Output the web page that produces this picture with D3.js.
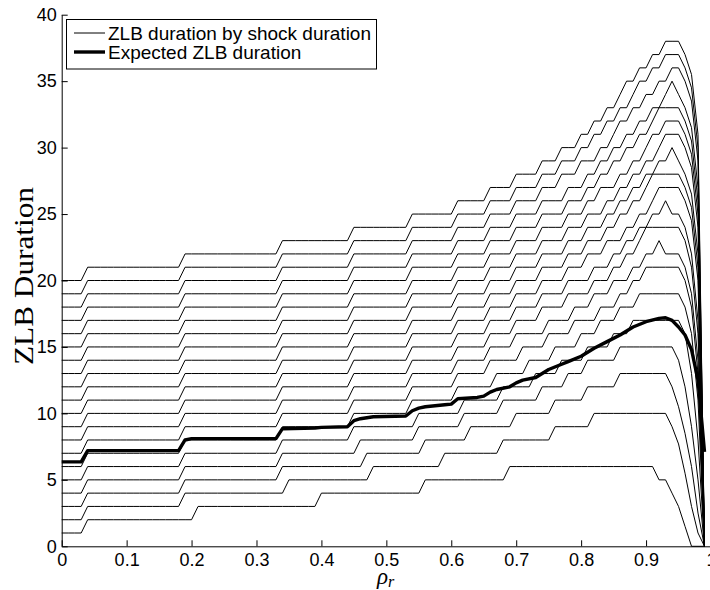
<!DOCTYPE html>
<html>
<head>
<meta charset="utf-8">
<script src="https://cdn.jsdelivr.net/npm/d3@7"></script>
<style type="text/css">
body { margin: 0; background: #fff; }
.axis text { font-family: "Liberation Sans", Arial, sans-serif; font-size: 18px; fill: #000; }
.axis path, .axis line { stroke: #000; stroke-width: 1; }
.legend text { font-family: "Liberation Sans", Arial, sans-serif; font-size: 19px; }
</style>
</head>
<body>
<svg width="710" height="590"></svg>
<script>

// shock durations (value of each thin line at rho_r = 0)
var shockDurations = [1, 2, 3, 4, 5, 6, 7, 8, 9, 10, 11, 12, 13, 14, 15, 16, 17, 18, 19, 20];

// last rho_r before each one-period increase of the ZLB duration, per shock duration
var stepAt = [
  [0.03, 0.20, 0.39, 0.55, 0.68],
  [0.03, 0.18, 0.34, 0.47, 0.58, 0.67, 0.75, 0.81],
  [0.03, 0.18, 0.33, 0.46, 0.55, 0.62, 0.69, 0.75, 0.80, 0.85],
  [0.03, 0.18, 0.33, 0.45, 0.54, 0.61, 0.67, 0.73, 0.77, 0.80, 0.85],
  [0.03, 0.18, 0.33, 0.44, 0.54, 0.61, 0.67, 0.72, 0.76, 0.80, 0.84, 0.87],
  [0.03, 0.18, 0.33, 0.44, 0.53, 0.60, 0.66, 0.71, 0.75, 0.79, 0.82, 0.85, 0.88],
  [0.03, 0.18, 0.33, 0.44, 0.53, 0.60, 0.65, 0.70, 0.74, 0.78, 0.82, 0.85, 0.87, 0.89],
  [0.03, 0.18, 0.33, 0.44, 0.53, 0.60, 0.65, 0.69, 0.74, 0.78, 0.81, 0.84, 0.87, 0.89, 0.91],
  [0.03, 0.18, 0.33, 0.44, 0.53, 0.60, 0.65, 0.69, 0.73, 0.77, 0.81, 0.84, 0.86, 0.88, 0.89],
  [0.03, 0.18, 0.33, 0.44, 0.53, 0.60, 0.65, 0.69, 0.73, 0.77, 0.81, 0.84, 0.86, 0.88, 0.90, 0.92],
  [0.03, 0.18, 0.33, 0.44, 0.53, 0.60, 0.65, 0.69, 0.73, 0.77, 0.80, 0.83, 0.86, 0.88, 0.90, 0.91],
  [0.03, 0.18, 0.33, 0.44, 0.53, 0.60, 0.65, 0.69, 0.73, 0.77, 0.80, 0.83, 0.85, 0.87, 0.89, 0.90],
  [0.03, 0.18, 0.33, 0.44, 0.53, 0.60, 0.65, 0.69, 0.73, 0.77, 0.80, 0.83, 0.85, 0.87, 0.89, 0.91, 0.93],
  [0.03, 0.18, 0.33, 0.44, 0.53, 0.60, 0.65, 0.69, 0.73, 0.77, 0.80, 0.83, 0.85, 0.87, 0.89, 0.91, 0.92],
  [0.03, 0.18, 0.33, 0.44, 0.53, 0.60, 0.65, 0.69, 0.73, 0.77, 0.80, 0.82, 0.85, 0.87, 0.89, 0.90, 0.92],
  [0.03, 0.18, 0.33, 0.44, 0.53, 0.60, 0.65, 0.69, 0.73, 0.77, 0.80, 0.82, 0.84, 0.86, 0.88, 0.90, 0.91],
  [0.03, 0.18, 0.33, 0.44, 0.53, 0.60, 0.65, 0.69, 0.73, 0.77, 0.80, 0.82, 0.84, 0.86, 0.88, 0.90, 0.92, 0.93],
  [0.03, 0.18, 0.33, 0.44, 0.53, 0.60, 0.65, 0.69, 0.73, 0.76, 0.79, 0.82, 0.84, 0.85, 0.87, 0.89, 0.91, 0.93],
  [0.03, 0.18, 0.33, 0.44, 0.53, 0.60, 0.65, 0.69, 0.73, 0.76, 0.79, 0.81, 0.83, 0.85, 0.87, 0.88, 0.90, 0.92],
  [0.03, 0.18, 0.33, 0.44, 0.53, 0.60, 0.65, 0.69, 0.73, 0.76, 0.79, 0.81, 0.83, 0.85, 0.86, 0.88, 0.90, 0.92]
];

// where the collapse near rho_r = 1 begins, and the values from there to 0.99
var tailFrom = [0.92, 0.94, 0.94, 0.95, 0.96, 0.96, 0.96, 0.93, 0.96, 0.94,
                0.96, 0.96, 0.95, 0.96, 0.96, 0.96, 0.95, 0.96, 0.96, 0.96];
var tailValues = [
  [5, 5, 4, 3, 1.5, 0, 0, 0],
  [9, 7.7, 5.5, 3, 1, 0],
  [12, 10.5, 8.5, 6, 2.5, 0],
  [14, 12, 9, 5, 0],
  [16, 13, 8, 0],
  [18, 16, 11, 0],
  [20, 18, 13, 0],
  [22, 22, 22, 21, 19, 14, 0],
  [23, 21, 16, 0],
  [25, 25, 24, 22, 17, 0],
  [26, 24.5, 20, 0],
  [27, 25.5, 21, 0],
  [29, 28, 26.5, 22, 0],
  [30, 28.5, 24, 0],
  [31, 29.5, 25, 0],
  [32, 30.5, 26, 0],
  [34, 33, 31.5, 27, 0],
  [35, 33.5, 29, 0],
  [36, 34.5, 30, 0],
  [37, 35.5, 31, 0]
];

// expected ZLB duration
var expectedX = [0, 0.03, 0.04, 0.18, 0.19, 0.20, 0.33, 0.34, 0.39, 0.40, 0.44, 0.45, 0.46, 0.48,
                 0.53, 0.54, 0.55, 0.56, 0.59, 0.60, 0.61, 0.64, 0.65, 0.66, 0.67, 0.69, 0.70, 0.71,
                 0.73, 0.74, 0.75, 0.77, 0.78, 0.80, 0.82, 0.84, 0.86, 0.88, 0.90, 0.92, 0.93,
                 0.94, 0.95, 0.96, 0.97, 0.98, 0.99];
var expectedY = [6.35, 6.35, 7.2, 7.2, 8.0, 8.1, 8.1, 8.85, 8.9, 8.95, 9.0, 9.45, 9.6, 9.75,
                 9.8, 10.2, 10.4, 10.5, 10.65, 10.7, 11.1, 11.2, 11.3, 11.6, 11.8, 12.0, 12.3, 12.5,
                 12.7, 13.0, 13.3, 13.7, 13.9, 14.3, 14.9, 15.4, 15.9, 16.5, 16.9, 17.15, 17.2,
                 17.0, 16.5, 15.9, 14.8, 12.5, 7.1];

var xTicks = [0, 0.1, 0.2, 0.3, 0.4, 0.5, 0.6, 0.7, 0.8, 0.9, 1];
var xTickLabels = ["0", "0.1", "0.2", "0.3", "0.4", "0.5", "0.6", "0.7", "0.8", "0.9", "1"];
var yTicks = [0, 5, 10, 15, 20, 25, 30, 35, 40];

var svg = d3.select("svg");

var x = d3.scaleLinear().domain([0, 1]).range([61.7, 711]);
var y = d3.scaleLinear().domain([0, 40]).range([546.3, 14.7]);

// rebuild each thin line on the 0.01 grid from its step points and its tail
function buildSeries(i) {
  var pts = [];
  var steps = stepAt[i].map(function(t) { return Math.round(t * 100); });
  var tStart = Math.round(tailFrom[i] * 100);
  for (var k = 0; k <= 99; k++) {
    var v;
    if (k >= tStart) {
      v = tailValues[i][k - tStart];
    } else {
      v = shockDurations[i] + steps.filter(function(s) { return s < k; }).length;
    }
    pts.push([k / 100, v]);
  }
  return pts;
}

var line = d3.line()
  .x(function(d) { return x(d[0]); })
  .y(function(d) { return y(d[1]); });

var plot = svg.append("g");

shockDurations.forEach(function(s, i) {
  plot.append("path")
    .attr("d", line(buildSeries(i)))
    .attr("fill", "none")
    .attr("stroke", "#000")
    .attr("stroke-width", 1)
    .attr("stroke-linejoin", "round");
});

plot.append("path")
  .attr("d", line(expectedX.map(function(v, i) { return [v, expectedY[i]]; })))
  .attr("fill", "none")
  .attr("stroke", "#000")
  .attr("stroke-width", 3.4)
  .attr("stroke-linejoin", "round");

// axes, MATLAB style ticks pointing inward
svg.append("g")
  .attr("class", "axis")
  .attr("transform", "translate(0," + y(0) + ")")
  .call(d3.axisBottom(x).tickValues(xTicks)
    .tickFormat(function(d, i) { return xTickLabels[i]; })
    .tickSizeInner(-6).tickSizeOuter(0).tickPadding(7));

svg.append("g")
  .attr("class", "axis")
  .attr("transform", "translate(" + x(0) + ",0)")
  .call(d3.axisLeft(y).tickValues(yTicks)
    .tickSizeInner(-6).tickSizeOuter(0).tickPadding(5));

svg.selectAll(".axis text").attr("font-family", null);

// axis titles
svg.append("text")
  .attr("transform", "translate(33,276) rotate(-90)")
  .attr("text-anchor", "middle")
  .attr("font-family", "'Liberation Serif', 'DejaVu Serif', serif")
  .attr("font-size", 28)
  .attr("textLength", 178)
  .attr("lengthAdjust", "spacingAndGlyphs")
  .text("ZLB Duration");

var xlab = svg.append("text")
  .attr("x", 377)
  .attr("y", 584)
  .attr("font-family", "'Liberation Serif', 'DejaVu Serif', serif")
  .attr("font-style", "italic")
  .attr("font-size", 23);
xlab.append("tspan").text("ρ");
xlab.append("tspan").attr("font-size", 16).attr("dy", 3).text("r");

// legend
var legendItems = ["ZLB duration by shock duration", "Expected ZLB duration"];
var legendWidths = [1, 3.4];

var legend = svg.append("g").attr("class", "legend");
legend.append("rect")
  .attr("x", 66.5).attr("y", 19.5)
  .attr("width", 310).attr("height", 49.5)
  .attr("fill", "#fff").attr("stroke", "#000").attr("stroke-width", 1);

legendItems.forEach(function(name, i) {
  var cy = 33 + i * 19;
  legend.append("line")
    .attr("x1", 74).attr("x2", 105)
    .attr("y1", cy).attr("y2", cy)
    .attr("stroke", "#000").attr("stroke-width", legendWidths[i]);
  legend.append("text")
    .attr("x", 108).attr("y", cy)
    .attr("dy", "0.36em")
    .text(name);
});

</script>
</body>
</html>
